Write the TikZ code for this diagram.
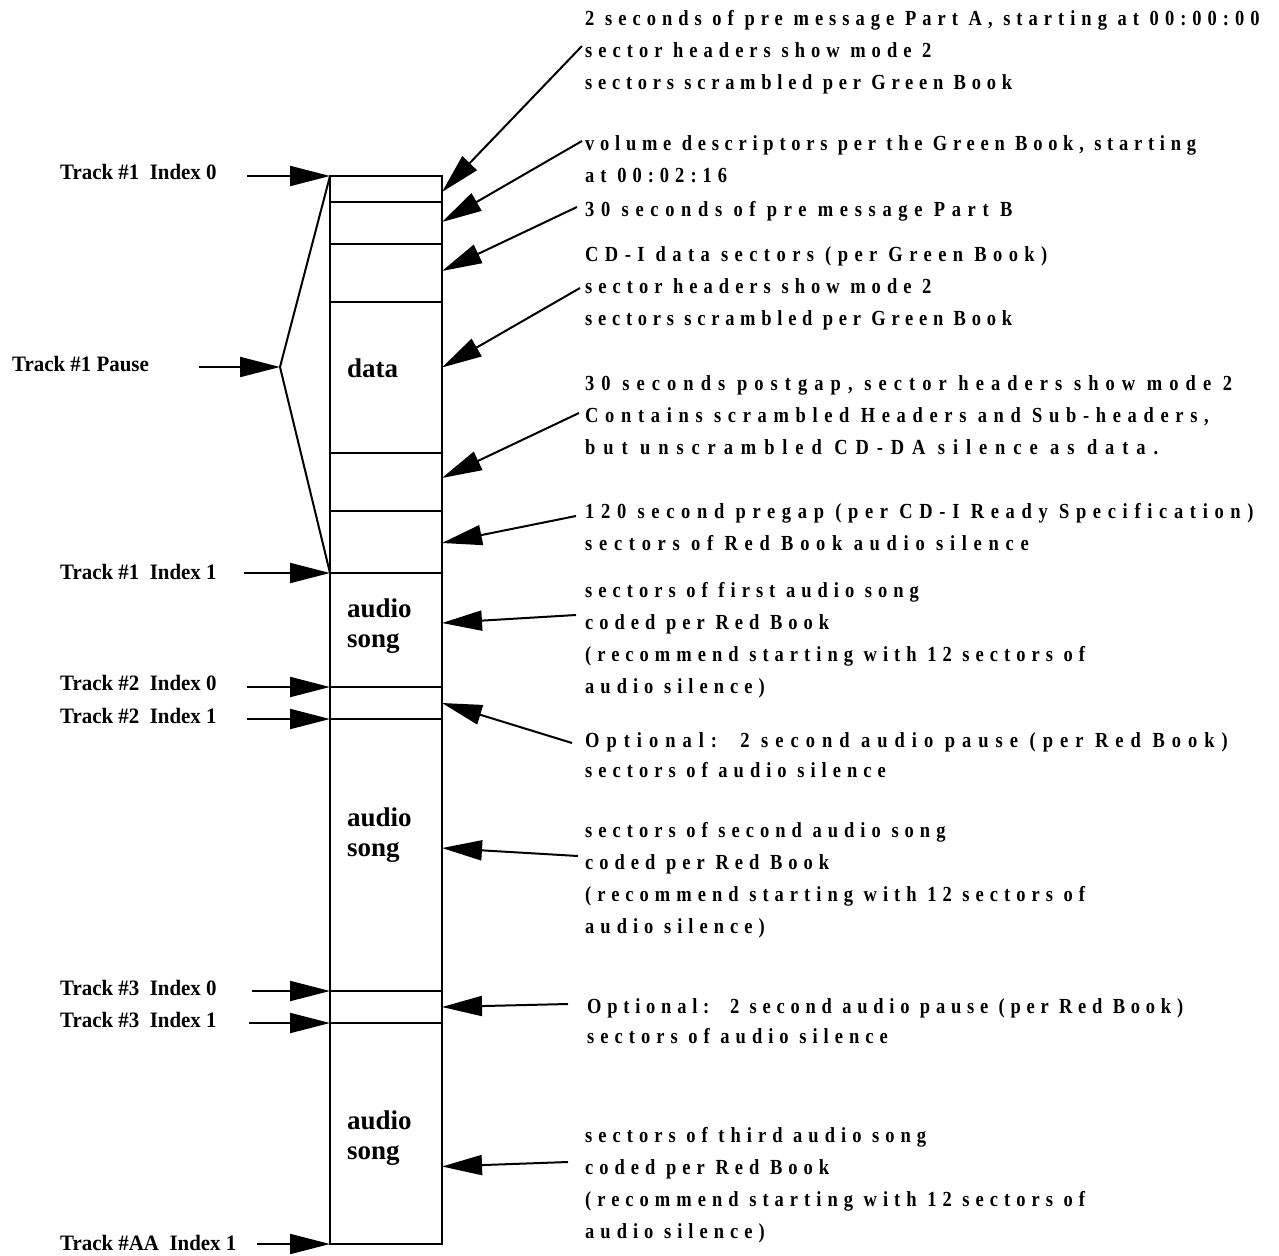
\documentclass[tikz,border=0pt]{standalone}
\usepackage{fontspec}
\setmainfont{Liberation Serif}
\newfontface\rtextfont{Liberation Serif Bold}[FakeStretch=0.86,LetterSpace=28]
\newfontfamily\ltextfont{Liberation Serif}[FakeStretch=0.95]
\newcommand\lsp[2]{{\addfontfeature{LetterSpace=#1}#2}}
\usetikzlibrary{arrows.meta,calc}
\begin{document}
\begin{tikzpicture}[x=1pt,y=-1pt,
  seg/.style={draw,line width=2pt,minimum width=112pt,inner sep=0pt,outer sep=0pt,anchor=north west},
  arr/.style={line width=2pt,-{Triangle[length=40pt,width=20pt]}},
  plain/.style={line width=2pt},
  ltxt/.style={anchor=base west,inner sep=0pt,font=\ltextfont\bfseries\fontsize{22}{26}\selectfont},
  btxt/.style={anchor=base west,inner sep=0pt,align=left,font=\bfseries\fontsize{27}{30}\selectfont},
  rtxt/.style={anchor=base west,inner sep=0pt,align=left,font=\rtextfont\fontsize{21.5}{32}\selectfont},
  rtxtb/.style={anchor=base west,inner sep=0pt,align=left,font=\rtextfont\fontsize{21.5}{30}\selectfont}]
\useasboundingbox (0,0) rectangle (1279,1255);
% segments of the disc layout
\node[seg,minimum height=26pt]  (s1)  at (330,176) {};
\node[seg,minimum height=42pt]  (s2)  at (330,202) {};
\node[seg,minimum height=58pt]  (s3)  at (330,244) {};
\node[seg,minimum height=151pt] (s4)  at (330,302) {};
\node[seg,minimum height=58pt]  (s5)  at (330,453) {};
\node[seg,minimum height=62pt]  (s6)  at (330,511) {};
\node[seg,minimum height=114pt] (s7)  at (330,573) {};
\node[seg,minimum height=32pt]  (s8)  at (330,687) {};
\node[seg,minimum height=272pt] (s9)  at (330,719) {};
\node[seg,minimum height=32pt]  (s10) at (330,991) {};
\node[seg,minimum height=221pt] (s11) at (330,1023) {};
% labels inside the box (anchor = baseline of last line)
\node[btxt] (ldata) at (347,377) {data};
\node[btxt] (lsong1) at (347,647) {audio\\song};
\node[btxt] (lsong2) at (347,856) {audio\\song};
\node[btxt] (lsong3) at (347,1159) {audio\\song};
% left labels
\node[ltxt] (t1i0) at (60,179) {Track \#1\ \ Index 0};
\node[ltxt] (t1p)  at (12,371) {Track \#1 Pause};
\node[ltxt] (t1i1) at (60,579) {Track \#1\ \ Index 1};
\node[ltxt] (t2i0) at (60,690) {Track \#2\ \ Index 0};
\node[ltxt] (t2i1) at (60,723) {Track \#2\ \ Index 1};
\node[ltxt] (t3i0) at (60,995) {Track \#3\ \ Index 0};
\node[ltxt] (t3i1) at (60,1027) {Track \#3\ \ Index 1};
\node[ltxt] (taa)  at (60,1250) {Track \#AA\ \ Index 1};
% left arrows
\coordinate (c1i0) at (247,176);
\coordinate (c1p)  at (199,367);
\coordinate (apex) at (280,367);
\coordinate (c1i1) at (244,573);
\coordinate (c2i0) at (247,687);
\coordinate (c2i1) at (247,719);
\coordinate (c3i0) at (252,991);
\coordinate (c3i1) at (249,1023);
\coordinate (caa)  at (257,1244);
\draw[arr] (c1i0) -- (s1.north west);
\draw[arr] (c1p) -- (apex);
\draw[plain] (s1.north west) -- (apex) -- (s7.north west);
\draw[arr] (c1i1) -- (s7.north west);
\draw[arr] (c2i0) -- (s8.north west);
\draw[arr] (c2i1) -- (s9.north west);
\draw[arr] (c3i0) -- (s10.north west);
\draw[arr] (c3i1) -- (s11.north west);
\draw[arr] (caa) -- (s11.south west);
% right texts (anchor = baseline of last line)
\node[rtxt] (r1) at (585,89) {2 seconds of pre message Part A, starting at 00:00:00\\sector headers show mode 2\\\lsp{26.7}{sectors scrambled per Green Book}};
\node[rtxt] (r2) at (585,182) {\lsp{26.7}{volume descriptors per the Green Book, starting}\\at 00:02:16};
\node[rtxt] (r3) at (585,216) {\lsp{31}{30 seconds of pre message Part B}};
\node[rtxt] (r4) at (585,325) {\lsp{30}{CD-I data sectors (per Green Book)}\\sector headers show mode 2\\\lsp{26.7}{sectors scrambled per Green Book}};
\node[rtxt] (r5) at (585,454) {\lsp{32.8}{30 seconds postgap, sector headers show mode 2}\\\lsp{31}{Contains scrambled Headers and Sub-headers,}\\\lsp{36.7}{but unscrambled CD-DA silence as data.}};
\node[rtxt] (r6) at (585,550) {\lsp{31}{120 second pregap (per CD-I Ready Specification)}\\\lsp{31.2}{sectors of Red Book audio silence}};
\node[rtxt] (r7) at (585,693) {sectors of first audio song\\coded per Red Book\\(recommend starting with 12 sectors of\\audio silence)};
\node[rtxtb] (r8) at (585,777) {\lsp{32.5}{Optional:\ \ 2 second audio pause (per Red Book)}\\sectors of audio silence};
\node[rtxt] (r9) at (585,933) {sectors of second audio song\\coded per Red Book\\(recommend starting with 12 sectors of\\audio silence)};
\node[rtxtb] (r10) at (587,1043) {\lsp{26.8}{Optional:\ \ 2 second audio pause (per Red Book)}\\sectors of audio silence};
\node[rtxt] (r11) at (585,1238) {sectors of third audio song\\coded per Red Book\\(recommend starting with 12 sectors of\\audio silence)};
% right arrow tails
\coordinate (e1)  at (582,46);
\coordinate (e2)  at (582,141);
\coordinate (e3)  at (577,207);
\coordinate (e4)  at (580,288);
\coordinate (e5)  at (579,413);
\coordinate (e6)  at (576,516);
\coordinate (e7)  at (576,615);
\coordinate (e8)  at (572,743);
\coordinate (e9)  at (578,856);
\coordinate (e10) at (568,1004);
\coordinate (e11) at (568,1162);
\draw[arr] (e1)  -- ($(s1.east)+(0,3)$);
\draw[arr] (e2)  -- ($(s2.east)+(0,-1)$);
\draw[arr] (e3)  -- ($(s3.east)+(0,-2)$);
\draw[arr] (e4)  -- ($(s4.east)+(0,-10)$);
\draw[arr] (e5)  -- ($(s5.east)+(0,-4)$);
\draw[arr] (e6)  -- ($(s6.east)+(0,1)$);
\draw[arr] (e7)  -- ($(s7.east)+(0,-7)$);
\draw[arr] (e8)  -- (s8.east);
\draw[arr] (e9)  -- ($(s9.east)+(0,-7)$);
\draw[arr] (e10) -- (s10.east);
\draw[arr] (e11) -- ($(s11.east)+(0,33)$);
\end{tikzpicture}
\end{document}
